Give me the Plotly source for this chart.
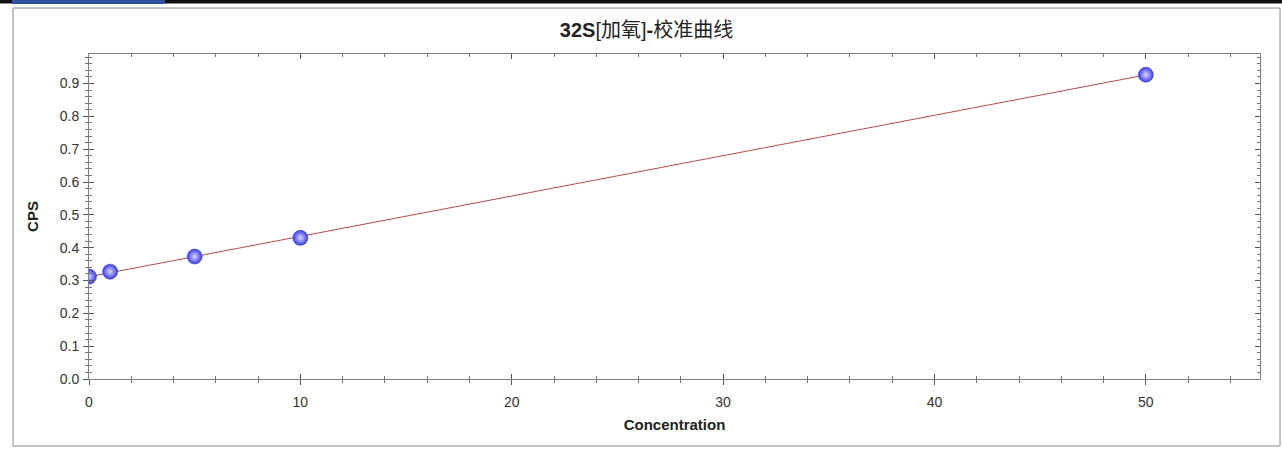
import numpy as np
import plotly.graph_objects as go

# Data
concentration = [0, 1, 5, 10, 50]
cps = [0.312, 0.327, 0.373, 0.430, 0.927]
title_html = "<b>32S</b>[加氧]<b>-</b>校准曲线"
x_title = "Concentration"
y_title = "CPS"
x_ticks = [0, 10, 20, 30, 40, 50]
y_ticks = [0.0, 0.1, 0.2, 0.3, 0.4, 0.5, 0.6, 0.7, 0.8, 0.9]

# Linear calibration fit
slope, intercept = np.polyfit(concentration, cps, 1)
fit_x = [min(concentration), max(concentration)]
fit_y = [slope * v + intercept for v in fit_x]

W, H = 1282, 450
L, R, T, B = 89, 1260, 54, 379
XR = [0, 55.4]
YR = [0, 0.99]

def px(xp):
    return (xp - L) / (R - L)

def py(yp):
    return (B - yp) / (B - T)

FONT = "Arial, Liberation Sans, sans-serif"

fig = go.Figure()
fig.add_trace(go.Scatter(
    x=fit_x, y=fit_y, mode="lines",
    line=dict(color="#b44a4a", width=1),
    hoverinfo="skip", showlegend=False,
))
fig.add_trace(go.Scatter(
    x=concentration, y=cps, mode="markers",
    marker=dict(size=15, color="#3c3ce6",
                gradient=dict(type="radial", color="#d8d8ff"),
                line=dict(width=0.5, color="#3030b8")),
    showlegend=False, cliponaxis=True,
))

inner = dict(
    showgrid=False, zeroline=False, showline=True, linecolor="#7f7f7f", linewidth=1,
    mirror="allticks", ticks="inside", tickcolor="#555555", ticklen=5,
    tickfont=dict(family=FONT, size=14, color="#333333"),
)
outer = dict(
    showgrid=False, zeroline=False, showline=False,
    ticks="outside", tickcolor="#555555", ticklen=5, showticklabels=False,
)

fig.update_layout(
    width=W, height=H,
    margin=dict(l=L, r=W - R, t=T, b=H - B),
    paper_bgcolor="white", plot_bgcolor="white",
    title=dict(text=title_html, xref="paper", x=px(646.5), xanchor="center",
               y=1 - 30 / H, yanchor="middle",
               font=dict(family="Arial, Liberation Sans, Noto Sans CJK SC, sans-serif", size=20, color="#222222")),
    xaxis=dict(range=XR, tickvals=x_ticks, ticktext=[str(v) for v in x_ticks],
               minor=dict(dtick=2, ticks="inside", ticklen=3, tickcolor="#777777"),
               ticklabelstandoff=10,
               title=dict(text="<b>" + x_title + "</b>", standoff=10,
                          font=dict(family=FONT, size=15, color="#222222")),
               **inner),
    yaxis=dict(range=YR, tickvals=y_ticks, ticktext=[f"{v:.1f}" for v in y_ticks],
               minor=dict(dtick=0.02, ticks="inside", ticklen=3, tickcolor="#777777"),
               ticklabelstandoff=6,
               title=dict(text="<b>" + y_title + "</b>", standoff=17,
                          font=dict(family=FONT, size=15, color="#222222")),
               **inner),
    xaxis2=dict(range=XR, overlaying="x", side="bottom", anchor="y",
                tickvals=x_ticks, minor=dict(dtick=2, ticks="outside", ticklen=3, tickcolor="#777777"),
                **outer),
    yaxis2=dict(range=YR, overlaying="y", side="left", anchor="x",
                tickvals=y_ticks, minor=dict(dtick=0.02, ticks="outside", ticklen=3, tickcolor="#777777"),
                **outer),
    shapes=[
        dict(type="rect", xref="paper", yref="paper",
             x0=px(13), x1=px(1280), y0=py(446), y1=py(8),
             line=dict(color="#8a8a8a", width=1), fillcolor="rgba(0,0,0,0)", layer="below"),
        dict(type="rect", xref="paper", yref="paper",
             x0=px(0), x1=px(1282), y0=py(3.5), y1=py(0),
             line=dict(width=0), fillcolor="#111111"),
        dict(type="rect", xref="paper", yref="paper",
             x0=px(12), x1=px(165), y0=py(4), y1=py(0),
             line=dict(width=0), fillcolor="#2f4f9f"),
    ],
)

# dummy invisible trace so the overlay axes are drawn
fig.add_trace(go.Scatter(x=[None], y=[None], xaxis="x2", yaxis="y2",
                         showlegend=False, hoverinfo="skip"))

fig.write_html("out.html", config={"displayModeBar": False},
               post_script="document.body.style.margin='0';")
